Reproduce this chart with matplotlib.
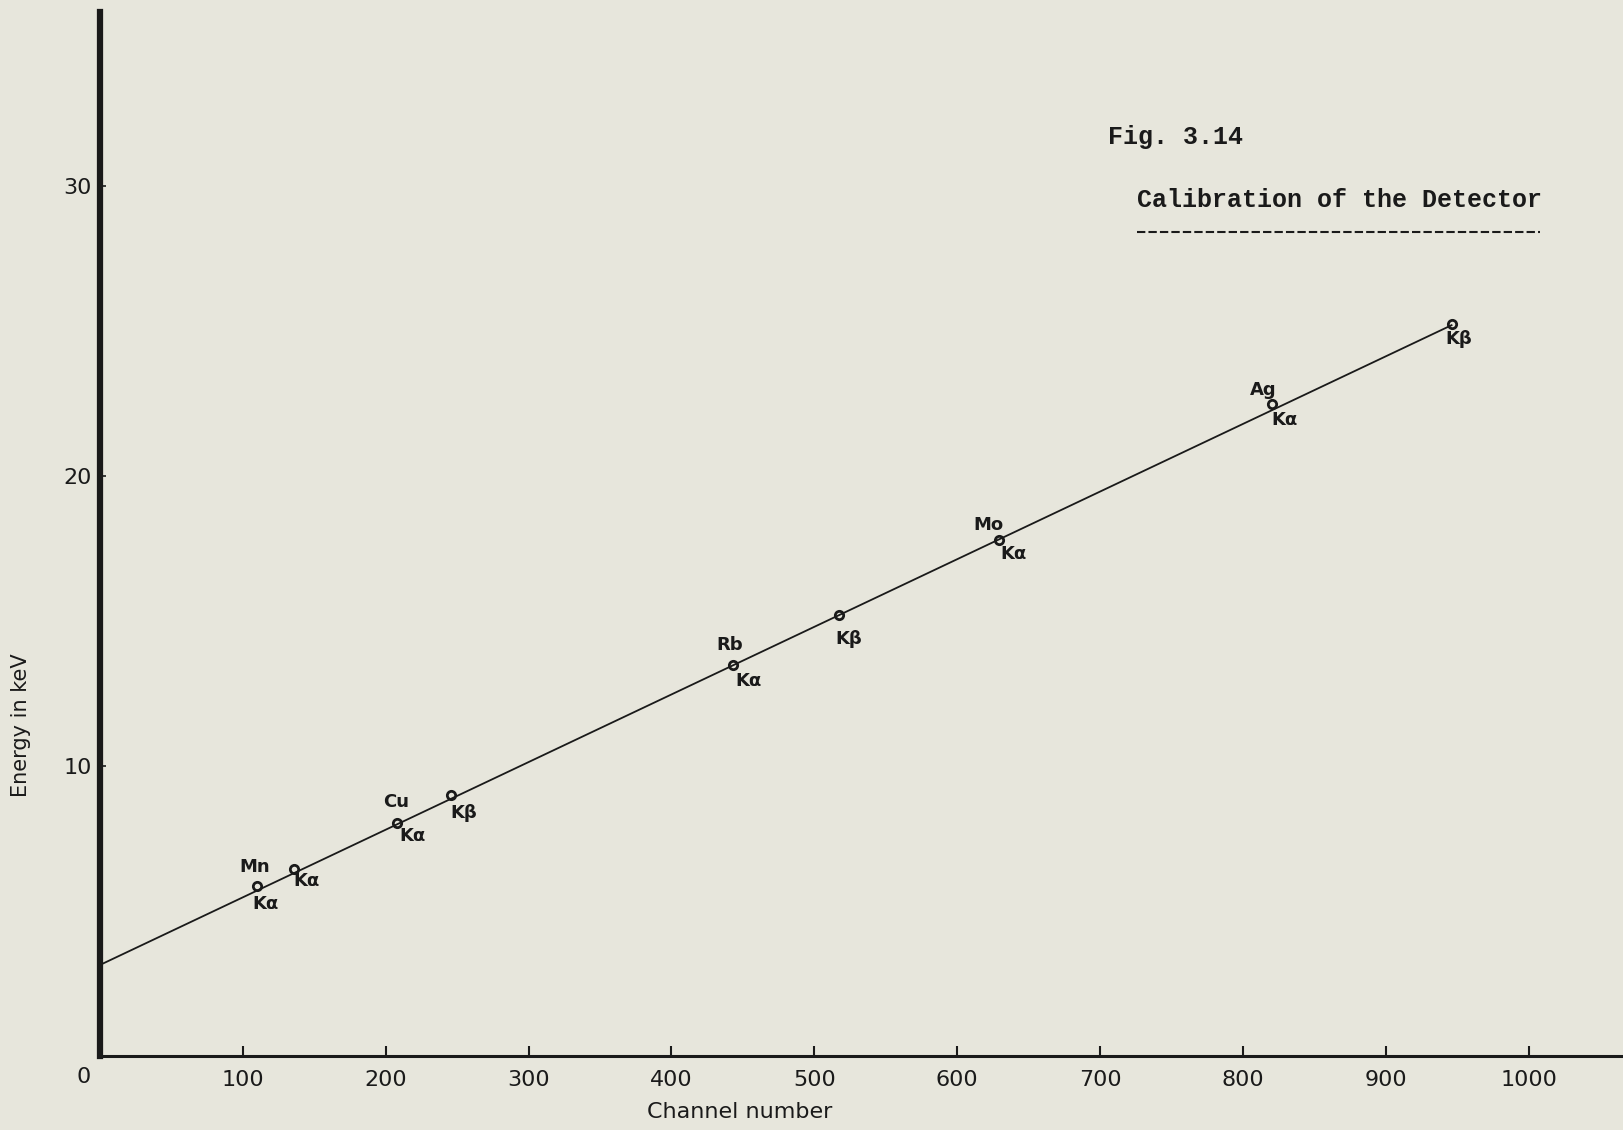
import matplotlib
matplotlib.use("Agg")
import matplotlib.pyplot as plt

# ---- data ----
channels = [110, 136, 208, 246, 443, 517, 629, 820, 946]
energies = [5.85, 6.45, 8.05, 9.0, 13.5, 15.2, 17.8, 22.5, 25.25]
line_labels = ["Kα", "Kα", "Kα", "Kβ", "Kα", "Kβ", "Kα", "Kα", "Kβ"]
element_labels = ["Mn", "", "Cu", "", "Rb", "", "Mo", "Ag", ""]
fit_channels = [0, 946]
fit_energies = [3.14, 25.2]
xticks = [100, 200, 300, 400, 500, 600, 700, 800, 900, 1000]
yticks = [10, 20, 30]

# ---- layout / style ----
paper = "#e7e6dc"
ink = "#1a1a1a"
sans = ["DejaVu Sans"]
# label offsets in points (element above-left, line label below-right)
elem_off = [(-2, 14), (0, 0), (-1, 15), (0, 0), (-2, 14), (0, 0), (-7, 11), (-6, 10), (0, 0)]
line_off = [(6, -13), (9, -9), (11, -10), (9, -13), (11, -12), (7, -17), (11, -10), (9, -12), (5, -11)]

fig = plt.figure(figsize=(16.23, 11.30), dpi=100, facecolor=paper)
ax = fig.add_axes([100 / 1623, 74 / 1130, 1523 / 1623, 1044 / 1130])
ax.set_facecolor(paper)
ax.set_xlim(0, 1066)
ax.set_ylim(0, 36)

for s in ["top", "right"]:
    ax.spines[s].set_visible(False)
ax.spines["left"].set_linewidth(4.5)
ax.spines["bottom"].set_linewidth(2.2)
ax.spines["left"].set_color(ink)
ax.spines["bottom"].set_color(ink)

ax.set_xticks(xticks)
ax.set_xticklabels([str(t) for t in xticks], family=sans, fontsize=16, color=ink)
ax.set_yticks(yticks)
ax.set_yticklabels([str(t) for t in yticks], family=sans, fontsize=16, color=ink)
ax.tick_params(axis="x", direction="in", length=7, width=1.5, pad=10, colors=ink)
ax.tick_params(axis="y", direction="in", length=4, width=1.2, pad=6, colors=ink)

# origin label
ax.annotate("0", (0, 0), xytext=(-12, -15), textcoords="offset points",
            ha="center", va="center", family=sans, fontsize=16, color=ink,
            annotation_clip=False)

# calibration line
ax.plot(fit_channels, fit_energies, color=ink, lw=1.3, zorder=2)
# points
ax.plot(channels, energies, "o", ms=6, mfc="none", mec=ink, mew=2, zorder=3)

for c, e, ll, el, eo, lo in zip(channels, energies, line_labels, element_labels, elem_off, line_off):
    if el:
        ax.annotate(el, (c, e), xytext=eo, textcoords="offset points", ha="center",
                    va="center", family=sans, fontsize=13, fontweight="bold", color=ink)
    ax.annotate(ll, (c, e), xytext=lo, textcoords="offset points", ha="center",
                va="center", family=sans, fontsize=13, fontweight="bold", color=ink)

# axis titles
fig.text(740 / 1623, 1 - 1112 / 1130, "Channel number", ha="center", va="center",
         family=sans, fontsize=16, color=ink)
fig.text(21 / 1623, 1 - 725 / 1130, "Energy in keV", ha="center", va="center",
         rotation=90, family=sans, fontsize=15, color=ink)

# figure caption (typewriter)
mono = ["Liberation Mono", "DejaVu Sans Mono"]
fig.text(1108 / 1623, 1 - 137 / 1130, "Fig. 3.14", ha="left", va="center",
         family=mono, fontsize=18, fontweight="bold", color=ink)
fig.text(1137 / 1623, 1 - 200 / 1130, "Calibration of the Detector", ha="left", va="center",
         family=mono, fontsize=18, fontweight="bold", color=ink)
fig.add_artist(plt.Line2D([1137 / 1623, 1540 / 1623], [1 - 232 / 1130, 1 - 232 / 1130],
                          transform=fig.transFigure, color=ink, lw=1.5, ls=(0, (4, 1.5))))

fig.savefig("out.png", dpi=100, facecolor=paper)
